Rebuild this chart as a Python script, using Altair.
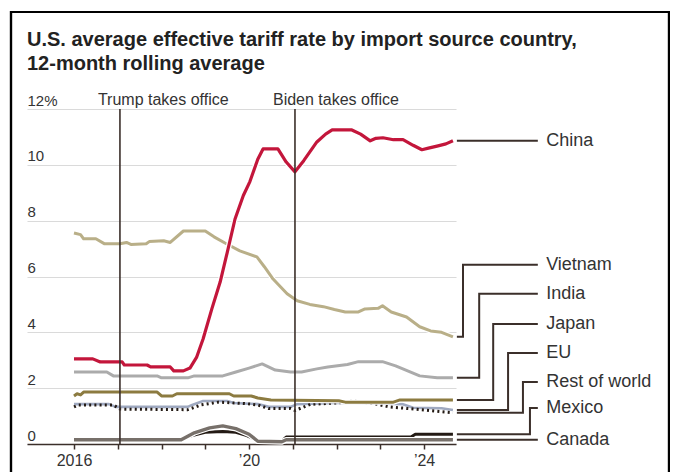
import altair as alt
import pandas as pd

# ---------------- data ----------------
SERIES = ["Mexico", "Canada", "EU", "Rest of world", "Japan", "India", "Vietnam", "China"]

CHINA_T = [2016.0, 2016.43, 2016.6, 2017.1, 2017.15, 2017.67, 2017.75, 2018.2, 2018.28, 2018.5,
           2018.65, 2018.8, 2018.95, 2019.15, 2019.34, 2019.5, 2019.68, 2019.87, 2020.02, 2020.2,
           2020.32, 2020.66, 2020.85, 2021.05, 2021.25, 2021.55, 2021.75, 2021.9, 2022.35, 2022.55,
           2022.77, 2022.9, 2023.06, 2023.3, 2023.52, 2023.75, 2023.95, 2024.1, 2024.32, 2024.5, 2024.66]
CHINA_V = [3.05, 3.05, 2.94, 2.94, 2.83, 2.83, 2.76, 2.76, 2.62, 2.62,
           2.72, 3.1, 3.76, 4.84, 5.8, 6.85, 8.06, 8.9, 9.4, 10.2,
           10.57, 10.57, 10.1, 9.75, 10.15, 10.82, 11.1, 11.25, 11.25, 11.1,
           10.86, 10.95, 10.97, 10.9, 10.9, 10.7, 10.54, 10.6, 10.68, 10.75, 10.86]

VIET_T = [2016.0, 2016.15, 2016.22, 2016.5, 2016.7, 2017.05, 2017.2, 2017.3, 2017.65, 2017.72,
          2018.05, 2018.2, 2018.5, 2019.0, 2019.2, 2019.45, 2019.79, 2020.18, 2020.35, 2020.55,
          2020.87, 2021.1, 2021.39, 2021.7, 2021.95, 2022.2, 2022.5, 2022.65, 2022.95, 2023.05,
          2023.25, 2023.6, 2023.9, 2024.15, 2024.4, 2024.66]
VIET_V = [7.56, 7.5, 7.35, 7.35, 7.17, 7.17, 7.22, 7.15, 7.17, 7.25,
          7.28, 7.22, 7.63, 7.63, 7.42, 7.2, 6.92, 6.7, 6.35, 5.91,
          5.38, 5.13, 5.0, 4.92, 4.82, 4.73, 4.73, 4.84, 4.86, 4.95,
          4.73, 4.55, 4.2, 4.05, 4.0, 3.84]

INDIA_T = [2016.0, 2016.75, 2016.9, 2017.9, 2018.0, 2018.6, 2018.75, 2019.4, 2019.7, 2020.0,
           2020.3, 2020.6, 2020.95, 2021.2, 2021.55, 2021.8, 2022.25, 2022.5, 2023.05, 2023.35,
           2023.9, 2024.3, 2024.66]
INDIA_V = [2.58, 2.58, 2.44, 2.44, 2.37, 2.37, 2.44, 2.44, 2.58, 2.72,
           2.87, 2.65, 2.58, 2.58, 2.69, 2.76, 2.85, 2.95, 2.95, 2.8,
           2.44, 2.37, 2.37]

JAPAN_T = [2016.0, 2016.07, 2016.15, 2016.22, 2017.9, 2018.0, 2018.25, 2018.35, 2019.55, 2019.65,
           2020.05, 2020.2, 2020.5, 2022.05, 2022.2, 2023.3, 2023.45, 2024.66]
JAPAN_V = [1.72, 1.8, 1.76, 1.86, 1.86, 1.72, 1.72, 1.8, 1.8, 1.72,
           1.72, 1.65, 1.58, 1.55, 1.5, 1.5, 1.58, 1.58]

EU_T = [2016.0, 2016.8, 2016.95, 2018.6, 2018.7, 2018.95, 2019.5, 2019.65, 2020.2, 2020.45,
        2020.95, 2021.1, 2022.1, 2023.0, 2023.5, 2023.75, 2024.4, 2024.66]
EU_V = [1.43, 1.43, 1.33, 1.33, 1.4, 1.54, 1.54, 1.47, 1.43, 1.33,
        1.33, 1.43, 1.48, 1.45, 1.43, 1.3, 1.28, 1.22]

ROW_T = [2016.0, 2016.1, 2016.9, 2017.05, 2018.6, 2018.9, 2019.3, 2019.9, 2020.2, 2020.45,
         2020.95, 2021.05, 2021.4, 2022.0, 2022.4, 2022.9, 2023.2, 2024.0, 2024.66]
ROW_V = [1.33, 1.4, 1.4, 1.25, 1.23, 1.4, 1.5, 1.45, 1.4, 1.27,
         1.27, 1.2, 1.42, 1.47, 1.54, 1.43, 1.33, 1.22, 1.12]

MEX_T = [2016.0, 2018.45, 2018.7, 2019.0, 2019.4, 2019.7, 2019.95, 2020.2, 2020.75, 2020.85,
         2023.7, 2023.8, 2024.66]
MEX_V = [0.18, 0.18, 0.3, 0.42, 0.45, 0.42, 0.3, 0.12, 0.1, 0.25,
         0.25, 0.35, 0.35]

CAN_T = [2016.0, 2018.45, 2018.75, 2019.1, 2019.4, 2019.7, 2020.0, 2020.2, 2020.75, 2020.85, 2024.66]
CAN_V = [0.15, 0.15, 0.4, 0.58, 0.65, 0.55, 0.35, 0.1, 0.08, 0.15, 0.15]

EVENT_LABELS = ["Trump takes office", "Biden takes office"]
EVENT_T = [2017.05, 2021.05]

X_TICKS = [2016, 2017, 2018, 2019, 2020, 2021, 2022, 2023, 2024]
Y_TICKS = [0, 2, 4, 6, 8, 10, 12]

# label layout (direct labels on the right with elbow leaders)
LABEL_Y = {"China": None, "Vietnam": 6.42, "India": 5.38, "Japan": 4.3, "EU": 3.26,
           "Rest of world": 2.22, "Mexico": 1.29, "Canada": None}
ELBOW_T = {"Vietnam": 2024.89, "India": 2025.26, "Japan": 2025.58, "EU": 2025.92,
           "Rest of world": 2026.26, "Mexico": 2026.42}
LEADER_START = 2024.75
LEADER_END = 2026.6
LABEL_T = 2026.79

# colour, width, dash, halo
STYLE = {
    "China": ("#c3163b", 3.2, None, True),
    "Vietnam": ("#b9af88", 3.0, None, True),
    "India": ("#ababab", 3.0, None, True),
    "Japan": ("#8c7b40", 3.0, None, True),
    "EU": ("#9fa9c0", 2.6, None, True),
    "Rest of world": ("#231a14", 3.0, [2, 3.2], False),
    "Mexico": ("#231a14", 3.0, None, True),
    "Canada": ("#77706a", 3.4, None, True),
}

RAW = {
    "China": (CHINA_T, CHINA_V), "Vietnam": (VIET_T, VIET_V), "India": (INDIA_T, INDIA_V),
    "Japan": (JAPAN_T, JAPAN_V), "EU": (EU_T, EU_V), "Rest of world": (ROW_T, ROW_V),
    "Mexico": (MEX_T, MEX_V), "Canada": (CAN_T, CAN_V),
}

FONT = "Liberation Sans, Arial, sans-serif"
TEXT = "#333333"
DARK = "#3b2f2a"

xs = alt.Scale(domain=[2014.926, 2024.73], nice=False, zero=False)
ys = alt.Scale(domain=[0, 12], nice=False, zero=False)

X = alt.X("t:Q", scale=xs, axis=alt.Axis(
    values=X_TICKS, title=None, grid=False, domainColor=DARK, domainWidth=1.6,
    tickColor=DARK, tickSize=5, tickWidth=1.5, labelFontSize=16, labelFont=FONT,
    labelColor=TEXT, labelPadding=3, labelOverlap=False, labelFlush=False,
    labelExpr="datum.value == 2016 ? '2016' : (datum.value == 2020 ? '\u201920' : (datum.value == 2024 ? '\u201924' : ''))"))
Y = alt.Y("v:Q", scale=ys, axis=alt.Axis(
    values=Y_TICKS, title=None, grid=True, gridColor="#dadada", gridWidth=1.2,
    domain=False, ticks=False, tickSize=0, labelAlign="left", labelBaseline="bottom",
    labelPadding=0, labelOffset=-1, labelFontSize=15, labelFont=FONT, labelColor=TEXT,
    labelExpr="datum.value == 12 ? '12%' : datum.label"))

layers = []
for s in SERIES:
    t, v = RAW[s]
    df = pd.DataFrame({"t": t, "v": v, "series": s})
    color, w, dash, has_halo = STYLE[s]
    if has_halo:
        layers.append(alt.Chart(df).mark_line(color="white", strokeWidth=w + 2.4,
                                              strokeJoin="round").encode(x=X, y=Y))
    kw = dict(color=color, strokeWidth=w, strokeJoin="round")
    if dash:
        kw.update(strokeDash=dash, strokeCap="butt")
    layers.append(alt.Chart(df).mark_line(**kw).encode(x=X, y=Y))

# event markers
ev = pd.DataFrame({"t": EVENT_T, "label": EVENT_LABELS})
rules = alt.Chart(ev).mark_rule(color=DARK, strokeWidth=1.6).encode(x=X)
ev_text = alt.Chart(ev).mark_text(align="left", baseline="alphabetic", dx=-22, fontSize=16,
                                  font=FONT, color=TEXT).encode(
    x=X, y=alt.value(-4), text="label:N")

# leaders and labels
rows, lab_rows = [], []
for s in SERIES:
    t, v = RAW[s]
    end = v[-1]
    ly = LABEL_Y[s] if LABEL_Y[s] is not None else end
    et = ELBOW_T.get(s, LEADER_START)
    pts = [(LEADER_START, end), (et, end), (et, ly), (LEADER_END, ly)]
    for i, (pt, pv) in enumerate(pts):
        rows.append({"series": s, "t": pt, "v": pv, "o": i})
    lab_rows.append({"series": s, "t": LABEL_T, "v": ly})
lead_df = pd.DataFrame(rows)
lab_df = pd.DataFrame(lab_rows)

leaders = alt.Chart(lead_df).mark_line(color=DARK, strokeWidth=2, strokeJoin="miter").encode(
    x=X, y=Y, detail="series:N", order="o:Q")
labels = alt.Chart(lab_df).mark_text(align="left", baseline="middle", fontSize=18, font=FONT,
                                     color=TEXT).encode(x=X, y=Y, text="series:N")

frame = alt.Chart(ev).mark_rect(fillOpacity=0, stroke="#000000", strokeWidth=2.2).encode(
    x=alt.value(-16), x2=alt.value(642), y=alt.value(-97), y2=alt.value(420))

chart = alt.layer(*layers, leaders, rules, ev_text, labels, frame).properties(
    width=429, height=335,
    padding={"left": 19, "top": 101, "right": 214, "bottom": 28},
    autosize=alt.AutoSizeParams(type="none"),
    title=alt.TitleParams(
        text=["U.S. average effective tariff rate by import source country,",
              "12-month rolling average"],
        anchor="start", frame="group", fontSize=20, fontWeight="bold",
        font="Liberation Sans Narrow, Arial Narrow, Liberation Sans, sans-serif",
        color="#222222", lineHeight=24, offset=34, dy=97),
).configure(background="white").configure_view(stroke=None)

chart.save("out.html", embed_options={"renderer": "svg", "actions": False})
